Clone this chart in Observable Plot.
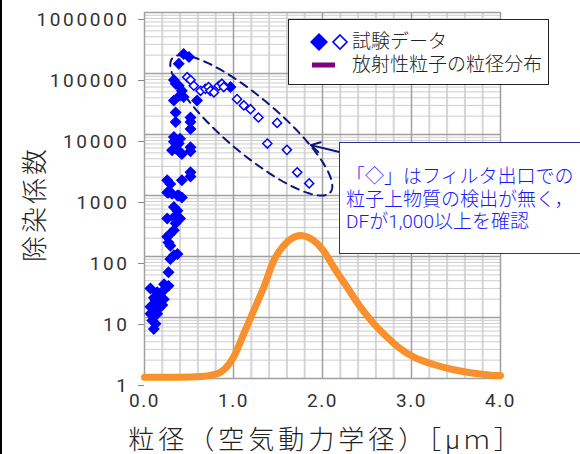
<!DOCTYPE html>
<html>
<head>
<meta charset="utf-8">
<script src="https://cdn.jsdelivr.net/npm/d3@7"></script>
<script src="https://cdn.jsdelivr.net/npm/@observablehq/plot@0.6"></script>
<style>
  html, body { margin: 0; padding: 0; background: #fff; }
  #wrap { position: relative; width: 580px; height: 454px; overflow: hidden; background: #fff; }
  #wrap svg { position: absolute; left: 0; top: 0; }
  #leftbar { position: absolute; left: 0; top: 0; width: 2px; height: 454px; background: #000; }
  g[aria-label="y-axis tick"] { stroke: #8a8a8a; }
  g[aria-label="y-axis tick label"] text { letter-spacing: 2.6px; }
  g[aria-label="x-axis tick label"] text { letter-spacing: 1.5px; }
  .jp { font-family: Roboto, "Noto Sans CJK JP", sans-serif; font-weight: 300; }
  #legend { position: absolute; left: 288px; top: 19px; width: 259px; height: 64px; border: 1.5px solid #222; background: #fff;
    font-size: 19px; color: #222; }
  #legend .row { position: absolute; left: 0; height: 22px; line-height: 22px; width: 100%; }
  #legend .txt { position: absolute; left: 63px; top: 0; height: 22px; white-space: nowrap; }
  #note { position: absolute; left: 339px; top: 142px; width: 241px; height: 112px; border: 1.5px solid #2b2b90; border-right: none; background: #fff;
    font-size: 19px; color: #1818ff; padding: 23px 0 0 6px; box-sizing: border-box; white-space: nowrap; }
  #note div { height: 22.5px; line-height: 22.5px; }
  #xtitle { position: absolute; left: 74px; width: 504px; top: 425px; height: 30px; line-height: 30px; text-align: center;
    font-size: 26px; color: #222; letter-spacing: 4px; white-space: nowrap; }
  #ytitle { position: absolute; left: 35px; top: 204px; width: 130px; height: 30px; line-height: 30px; margin-left: -65px; margin-top: -15px;
    text-align: center; transform: rotate(-90deg); font-size: 26px; color: #222; letter-spacing: 3px; white-space: nowrap; }
</style>
</head>
<body>
<div id="wrap"></div>
<script>
// ---- data ----
const xTicks = [0, 1, 2, 3, 4];
const xMinorTicks = [0.2, 0.4, 0.6, 0.8, 1.2, 1.4, 1.6, 1.8, 2.2, 2.4, 2.6, 2.8, 3.2, 3.4, 3.6, 3.8];
const yTicks = [1, 10, 100, 1000, 10000, 100000, 1000000];

// filled diamonds (試験データ)
const filledX = [0.44, 0.50, 0.385, 0.33, 0.35, 0.385, 0.42, 0.40, 0.44, 0.33, 0.59, 0.966, 0.35, 0.35, 0.517, 0.517, 0.517,
  0.33, 0.40, 0.33, 0.385, 0.35, 0.42, 0.31, 0.40, 0.517, 0.517, 0.517, 0.517, 0.42, 0.255, 0.29, 0.255, 0.31, 0.385, 0.42,
  0.33, 0.37, 0.255, 0.33, 0.40, 0.35, 0.33, 0.255, 0.29, 0.27, 0.29, 0.33, 0.37, 0.29, 0.27, 0.22, 0.27, 0.067, 0.143, 0.18,
  0.217, 0.105, 0.124, 0.18, 0.217, 0.067, 0.105, 0.16, 0.20, 0.067, 0.105, 0.143, 0.087, 0.124, 0.105, 0.27, 0.37];
const filledY = [209000, 186000, 145000, 78000, 68000, 63000, 52000, 44000, 41000, 36000, 36000, 60000, 23000, 16000, 19000, 16000, 12300,
  9100, 8500, 7600, 7100, 5900, 4800, 5500, 5100, 6200, 5300, 2400, 2050, 1780, 1780, 1550, 1120, 1070, 1000, 930,
  650, 560, 420, 440, 420, 350, 270, 210, 235, 170, 150, 105, 110, 91, 55, 35, 33, 30, 26, 25,
  28, 21, 19, 19, 20, 15, 13, 14, 16, 11.5, 10.7, 11.5, 8.9, 7.9, 6.5, 1120, 1000];

// open diamonds
const openX = [0.48, 0.517, 0.554, 0.63, 0.685, 0.72, 0.74, 0.78, 0.835, 0.87, 0.89, 1.04, 1.116, 1.19, 1.28, 1.49, 1.38, 1.60, 1.716, 1.85];
const openY = [87000, 78000, 63000, 52000, 56000, 60000, 52000, 49000, 63000, 68000, 60000, 38000, 30000, 26000, 19000, 15500, 7100, 5600, 2400, 1580];

// 放射性粒子の粒径分布 (relative, secondary linear axis)
const curveX = [0.0, 0.3, 0.5, 0.63, 0.75, 0.854, 1.0, 1.116, 1.228, 1.34, 1.453, 1.565, 1.65, 1.753, 1.83, 1.90, 2.01, 2.127, 2.277, 2.427, 2.577, 2.727, 2.876, 3.026, 3.25, 3.475, 3.70, 3.96, 4.0];
const curveY = [0.008, 0.008, 0.010, 0.014, 0.024, 0.044, 0.149, 0.313, 0.476, 0.638, 0.825, 0.93, 0.978, 1.0, 0.99, 0.965, 0.895, 0.778, 0.638, 0.499, 0.383, 0.289, 0.208, 0.149, 0.098, 0.061, 0.037, 0.021, 0.02];

// texts
const yTitle = "除染係数";
const xTitle = "粒径（空気動力学径）［μｍ］";
const legendLabels = ["試験データ", "放射性粒子の粒径分布"];
const noteLines = ["「◇」はフィルタ出口での", "粒子上物質の検出が無く，", "DFが1,000以上を確認"];

// annotation ellipse (in x units / log10 decades) and arrow
const ellipseCenter = [1.20, 4.15];
const ellipseA = [0.888, -1.098];
const ellipseB = [0.20, 0.345];
const arrowFrom = [2.20, 5130];
const arrowTo = [1.87, 6700];

// ---- derived ----
const yMinorTicks = [];
for (let k = 0; k < 6; k++) for (let m = 2; m <= 9; m++) yMinorTicks.push(m * Math.pow(10, k));
const filled = filledX.map((x, i) => ({x, y: filledY[i]}));
const open = openX.map((x, i) => ({x, y: openY[i]}));
const curve = curveX.map((x, i) => ({x, y: curveY[i]}));
const ellipse = d3.range(0, 2 * Math.PI + 0.001, Math.PI / 90).map(t => ({
  x: ellipseCenter[0] + Math.cos(t) * ellipseA[0] + Math.sin(t) * ellipseB[0],
  y: Math.pow(10, ellipseCenter[1] + Math.cos(t) * ellipseA[1] + Math.sin(t) * ellipseB[1])
}));

const W = 580, H = 454, mt = 12, mb = 76, ml = 144, mr = 80;
const tickFont = "Roboto, 'Noto Sans', sans-serif";

const main = Plot.plot({
  width: W, height: H, marginTop: mt, marginBottom: mb, marginLeft: ml, marginRight: mr,
  style: {background: "transparent", fontFamily: tickFont, fontSize: "19px", color: "#333", overflow: "visible"},
  x: {domain: [0, 4]},
  y: {type: "log", domain: [1, 1e6]},
  marks: [
    Plot.ruleX(xMinorTicks, {stroke: "#d6d6d6", strokeWidth: 2}),
    Plot.ruleY(yMinorTicks, {stroke: "#cdcdcd", strokeWidth: 1}),
    Plot.ruleX(xTicks, {stroke: "#a0a0a0", strokeWidth: 1.5}),
    Plot.ruleY(yTicks, {stroke: "#a0a0a0", strokeWidth: 1.5}),
    Plot.axisX({ticks: xTicks, tickFormat: d => d.toFixed(1), tickSize: 0, tickPadding: 15, label: null, fontSize: 19}),
    Plot.axisY({ticks: yTicks, tickFormat: d => String(d), tickSize: 6, tickPadding: 9, label: null, dy: 7, fontSize: 19}),
    Plot.line(ellipse, {x: "x", y: "y", stroke: "#0a1480", strokeWidth: 2, strokeDasharray: "8,6"}),
    Plot.dot(filled, {x: "x", y: "y", symbol: "diamond2", r: 5.4, fill: "#0000ff", stroke: "none"}),
    Plot.dot(open, {x: "x", y: "y", symbol: "diamond2", r: 4.1, fill: "white", stroke: "#0000ff", strokeWidth: 1.5}),
    Plot.arrow([{x1: arrowFrom[0], y1: arrowFrom[1], x2: arrowTo[0], y2: arrowTo[1]}],
      {x1: "x1", y1: "y1", x2: "x2", y2: "y2", stroke: "#0a1480", strokeWidth: 2, headLength: 10})
  ]
});

const dist = Plot.plot({
  width: W, height: H, marginTop: mt, marginBottom: mb, marginLeft: ml, marginRight: mr,
  style: {background: "transparent", overflow: "visible"},
  x: {domain: [0, 4], axis: null},
  y: {domain: [0, 2.56], axis: null},
  marks: [
    Plot.line(curve, {x: "x", y: "y", curve: "monotone-x", stroke: "#f9921e", strokeWidth: 7, strokeLinecap: "round"}),
    Plot.line(curve, {x: "x", y: "y", curve: "monotone-x", stroke: "#f48a72", strokeWidth: 2, strokeDasharray: "2,3", strokeOpacity: 0.8})
  ]
});

const wrap = document.getElementById("wrap");
wrap.appendChild(main);
wrap.appendChild(dist);

const bar = document.createElement("div"); bar.id = "leftbar"; wrap.appendChild(bar);

const yt = document.createElement("div"); yt.id = "ytitle"; yt.className = "jp"; yt.textContent = yTitle; wrap.appendChild(yt);
const xt = document.createElement("div"); xt.id = "xtitle"; xt.className = "jp"; xt.textContent = xTitle; wrap.appendChild(xt);

const legend = document.createElement("div");
legend.id = "legend";
legend.className = "jp";
legend.innerHTML = `
  <div class="row" style="top:11px">
    <svg width="60" height="22" style="position:absolute;left:4px;top:0">
      <path d="M26,2 L35,11 L26,20 L17,11 Z" fill="#0000ff"/>
      <path d="M47,4 L54,11 L47,18 L40,11 Z" fill="#fff" stroke="#0000ff" stroke-width="1.6"/>
    </svg>
    <span class="txt">${legendLabels[0]}</span>
  </div>
  <div class="row" style="top:34px">
    <svg width="60" height="22" style="position:absolute;left:4px;top:0">
      <rect x="19" y="8.5" width="23" height="5" fill="#800080"/>
    </svg>
    <span class="txt">${legendLabels[1]}</span>
  </div>`;
wrap.appendChild(legend);

const note = document.createElement("div");
note.id = "note";
note.className = "jp";
note.innerHTML = noteLines.map(s => `<div>${s}</div>`).join("");
wrap.appendChild(note);
</script>
</body>
</html>
